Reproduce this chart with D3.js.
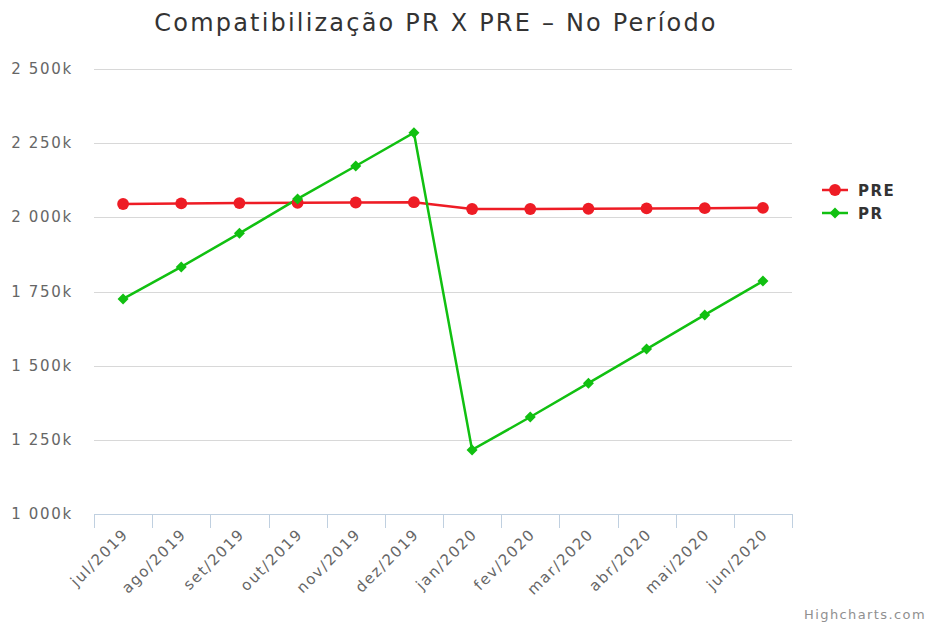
<!DOCTYPE html>
<html>
<head>
<meta charset="utf-8">
<script src="https://cdn.jsdelivr.net/npm/d3@7"></script>
<style>
  body { margin: 0; background: #fff; }
  svg { font-family: "DejaVu Sans", Verdana, sans-serif; }
</style>
</head>
<body>
<div id="container"></div>
<script>
/* data */
var months = ['jul/2019', 'ago/2019', 'set/2019', 'out/2019', 'nov/2019', 'dez/2019',
	'jan/2020', 'fev/2020', 'mar/2020', 'abr/2020', 'mai/2020', 'jun/2020'];
var preValues = [2045, 2047, 2048, 2049, 2050, 2051, 2028, 2028, 2029, 2030, 2031, 2032];
var prValues = [1725, 1833, 1946, 2062, 2173, 2285, 1216, 1327, 1441, 1556, 1671, 1785];
var yTicks = [1000, 1250, 1500, 1750, 2000, 2250, 2500];

var w = 928, h = 626;
var margin = {top: 69, right: 136, bottom: 112, left: 94};
var width = w - margin.left - margin.right,
	height = h - margin.top - margin.bottom;

var svg = d3.select('#container').append('svg')
	.attr('width', w)
	.attr('height', h);

/* title */
svg.append('text')
	.attr('x', 436)
	.attr('y', 31)
	.attr('text-anchor', 'middle')
	.style('font-size', '24px')
	.style('letter-spacing', '2.2px')
	.style('fill', '#333')
	.text('Compatibilização PR X PRE – No Período');

var chart = svg.append('g')
	.attr('transform', 'translate(' + margin.left + ',' + margin.top + ')');

/* scales */
var xScale = d3.scaleBand().domain(months).range([0, width]);
var yScale = d3.scaleLinear().domain([1000, 2500]).range([height, 0]);
var xc = d => xScale(d) + xScale.bandwidth() / 2;

var fmt = v => d3.format(',')(v).replace(/,/g, ' ') + 'k';

/* gridlines */
chart.append('g')
	.selectAll('line')
	.data(yTicks)
	.join('line')
	.attr('x1', 0)
	.attr('x2', width)
	.attr('y1', d => Math.round(yScale(d)) + 0.5)
	.attr('y2', d => Math.round(yScale(d)) + 0.5)
	.attr('stroke', '#d8d8d8')
	.attr('stroke-width', 1);

/* y labels */
chart.append('g')
	.selectAll('text')
	.data(yTicks)
	.join('text')
	.attr('x', -21)
	.attr('y', d => yScale(d) + 5)
	.attr('text-anchor', 'end')
	.style('font-size', '15px')
	.style('letter-spacing', '1.7px')
	.style('fill', '#666')
	.text(fmt);

/* x axis */
var xAxis = chart.append('g')
	.attr('transform', 'translate(0,' + height + ')');
xAxis.append('line')
	.attr('x1', 0).attr('x2', width)
	.attr('y1', 0.5).attr('y2', 0.5)
	.attr('stroke', '#c0d0e0');
xAxis.selectAll('.tick')
	.data(months.concat(['end']))
	.join('line')
	.attr('x1', (d, i) => Math.round(i * xScale.step()) + 0.5)
	.attr('x2', (d, i) => Math.round(i * xScale.step()) + 0.5)
	.attr('y1', 0).attr('y2', 14)
	.attr('stroke', '#c0d0e0');
xAxis.selectAll('.xlabel')
	.data(months)
	.join('text')
	.attr('text-anchor', 'end')
	.attr('transform', d => 'translate(' + (xc(d) + 6) + ',21) rotate(-45)')
	.style('font-size', '15px')
	.style('letter-spacing', '1.6px')
	.style('fill', '#666')
	.text(d => d);

/* lines */
var line = d3.line()
	.x((d, i) => xc(months[i]))
	.y(d => yScale(d));

var series = [
	{name: 'PRE', values: preValues, color: '#ee1c25', symbol: 'circle'},
	{name: 'PR', values: prValues, color: '#11c011', symbol: 'diamond'}
];

series.forEach(function (s) {
	chart.append('path')
		.datum(s.values)
		.attr('d', line)
		.attr('fill', 'none')
		.attr('stroke', s.color)
		.attr('stroke-width', 2.5);
});

series.forEach(function (s) {
	chart.append('g')
		.selectAll('path')
		.data(s.values)
		.join('path')
		.attr('transform', (d, i) => 'translate(' + xc(months[i]) + ',' + yScale(d) + ')')
		.attr('d', s.symbol === 'circle'
			? d3.symbol(d3.symbolCircle, 110)()
			: 'M0,-5.5L5.5,0L0,5.5L-5.5,0Z')
		.attr('fill', s.color);
});

/* legend */
var legend = svg.append('g')
	.attr('transform', 'translate(822,190)');
series.forEach(function (s, i) {
	var g = legend.append('g').attr('transform', 'translate(0,' + (i * 23) + ')');
	g.append('line')
		.attr('x1', 0).attr('x2', 26)
		.attr('stroke', s.color).attr('stroke-width', 2.5);
	g.append('path')
		.attr('transform', 'translate(13,0)')
		.attr('d', s.symbol === 'circle'
			? d3.symbol(d3.symbolCircle, 110)()
			: 'M0,-5.5L5.5,0L0,5.5L-5.5,0Z')
		.attr('fill', s.color);
	g.append('text')
		.attr('x', 36)
		.attr('y', 6)
		.style('font-size', '15px')
		.style('font-weight', 'bold')
		.style('letter-spacing', '1.5px')
		.style('fill', '#333')
		.text(s.name);
});

/* credits */
svg.append('text')
	.attr('x', 926)
	.attr('y', 619)
	.attr('text-anchor', 'end')
	.style('font-size', '13px')
	.style('letter-spacing', '1.4px')
	.style('fill', '#909090')
	.text('Highcharts.com');
</script>
</body>
</html>
